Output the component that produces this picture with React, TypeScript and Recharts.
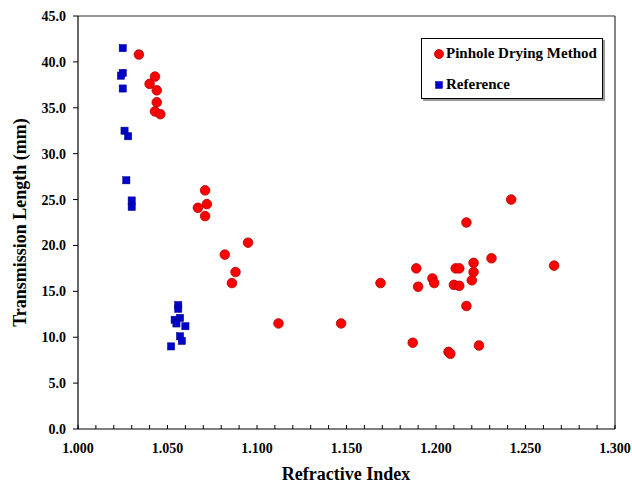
import { ScatterChart, Scatter, XAxis, YAxis, ReferenceLine, Legend, Label } from "recharts"

const FONT = "'Liberation Serif', 'Times New Roman', serif"

// Pinhole Drying Method (red circles)
const pinholeX = [
  1.034, 1.043, 1.040, 1.044, 1.044, 1.043, 1.046,
  1.071, 1.072, 1.067, 1.071, 1.095, 1.082, 1.088, 1.086,
  1.112, 1.147, 1.169,
  1.242, 1.217, 1.231, 1.266, 1.221, 1.189, 1.211, 1.213, 1.221,
  1.198, 1.199, 1.220, 1.190, 1.210, 1.213, 1.217,
  1.187, 1.207, 1.208, 1.224,
]
const pinholeY = [
  40.8, 38.4, 37.6, 36.9, 35.6, 34.6, 34.3,
  26.0, 24.5, 24.1, 23.2, 20.3, 19.0, 17.1, 15.9,
  11.5, 11.5, 15.9,
  25.0, 22.5, 18.6, 17.8, 18.1, 17.5, 17.5, 17.5, 17.1,
  16.4, 15.9, 16.2, 15.5, 15.7, 15.6, 13.4,
  9.4, 8.4, 8.2, 9.1,
]

// Reference (blue squares)
const referenceX = [
  1.025, 1.025, 1.024, 1.025, 1.026, 1.028, 1.027, 1.030, 1.030,
  1.056, 1.056, 1.057, 1.054, 1.055, 1.060, 1.057, 1.058, 1.052,
]
const referenceY = [
  41.5, 38.8, 38.5, 37.1, 32.5, 31.9, 27.1, 24.9, 24.2,
  13.5, 13.1, 12.1, 11.9, 11.5, 11.2, 10.1, 9.6, 9.0,
]

const xMajorTicks = [1.0, 1.05, 1.1, 1.15, 1.2, 1.25, 1.3]
const xMinorTicks = Array.from({ length: 31 }, (_, i) => 1 + i * 0.01)
const yTicks = [0, 5, 10, 15, 20, 25, 30, 35, 40, 45]

const pinhole = pinholeX.map((x, i) => ({ x, y: pinholeY[i] }))
const reference = referenceX.map((x, i) => ({ x, y: referenceY[i] }))

const RedDot = (props: any) => (
  <circle cx={props.cx} cy={props.cy} r={4.8} fill="#ff0000" stroke="#b00000" strokeWidth={0.8} />
)

const BlueSquare = (props: any) => (
  <rect x={props.cx - 3.6} y={props.cy - 3.6} width={7.2} height={7.2} fill="#0000cc" stroke="#000080" strokeWidth={0.5} />
)

const XTick = (props: any) => {
  const { x, y, payload } = props
  const v = payload.value as number
  const major = xMajorTicks.some((t) => Math.abs(t - v) < 1e-6)
  return (
    <g>
      <line x1={x} x2={x} y1={y} y2={y - 4} stroke="#000" strokeWidth={1} />
      {major && (
        <text x={x} y={y + 24} textAnchor="middle" fontSize={14} fontWeight="bold" fontFamily={FONT} fill="#000">
          {v.toFixed(3)}
        </text>
      )}
    </g>
  )
}

const LegendBox = () => (
  <div
    style={{
      width: 182,
      height: 61,
      border: "1px solid #000",
      boxShadow: "2px 2px 0 #9a9a9a",
      background: "#fff",
      fontFamily: FONT,
      fontWeight: "bold",
      fontSize: 15,
      color: "#000",
      boxSizing: "border-box",
      position: "relative",
    }}
  >
    <div style={{ position: "absolute", left: 12, top: 6, display: "flex", alignItems: "center", whiteSpace: "nowrap" }}>
      <svg width={10} height={10} style={{ marginRight: 2 }}>
        <circle cx={5} cy={5} r={4.5} fill="#ff0000" stroke="#b00000" strokeWidth={0.8} />
      </svg>
      Pinhole Drying Method
    </div>
    <div style={{ position: "absolute", left: 12, top: 37, display: "flex", alignItems: "center", whiteSpace: "nowrap" }}>
      <svg width={10} height={10} style={{ marginRight: 2 }}>
        <rect x={1.5} y={1.5} width={7} height={7} fill="#0000cc" stroke="#000080" strokeWidth={0.5} />
      </svg>
      Reference
    </div>
  </div>
)

export default function App() {
  return (
    <div style={{ position: "absolute", left: 0, top: 0, width: 632, height: 485, background: "#fff" }}>
      <ScatterChart width={632} height={485} margin={{ top: 16, right: 17, bottom: 0, left: 0 }}>
        <XAxis
          type="number"
          dataKey="x"
          domain={[1.0, 1.3]}
          ticks={xMinorTicks}
          interval={0}
          height={56}
          tickSize={0}
          tickMargin={0}
          tickLine={false}
          axisLine={{ stroke: "#000", strokeWidth: 1.2 }}
          tick={<XTick />}
          allowDataOverflow
        >
          <Label
            content={() => (
              <text x={346} y={480} textAnchor="middle" fontSize={18} fontWeight="bold" fontFamily={FONT} fill="#000">
                Refractive Index
              </text>
            )}
          />
        </XAxis>
        <YAxis
          type="number"
          dataKey="y"
          domain={[0, 45]}
          ticks={yTicks}
          interval={0}
          width={78}
          tickSize={5}
          tickMargin={7}
          tickLine={{ stroke: "#000" }}
          axisLine={{ stroke: "#000", strokeWidth: 1.2 }}
          tick={{ fontSize: 14, fontWeight: "bold", fontFamily: FONT, fill: "#000" }}
          tickFormatter={(v: number) => v.toFixed(1)}
        >
          <Label
            content={(p: any) => {
              const vb = p.viewBox
              const cx = 26
              const cy = vb.y + vb.height / 2
              return (
                <text
                  x={cx}
                  y={cy}
                  transform={`rotate(-90 ${cx} ${cy})`}
                  textAnchor="middle"
                  fontSize={18}
                  fontWeight="bold"
                  fontFamily={FONT}
                  fill="#000"
                >
                  Transmission Length (mm)
                </text>
              )
            }}
          />
        </YAxis>
        <ReferenceLine y={45} stroke="#333" strokeWidth={1.2} />
        <ReferenceLine x={1.3} stroke="#333" strokeWidth={1.2} />
        <Legend
          layout="vertical"
          align="center"
          verticalAlign="middle"
          content={<LegendBox />}
          wrapperStyle={{ position: "absolute", left: 421, top: 38, width: 184, height: 63 }}
        />
        <Scatter name="Pinhole Drying Method" data={pinhole} shape={<RedDot />} isAnimationActive={false} />
        <Scatter name="Reference" data={reference} shape={<BlueSquare />} isAnimationActive={false} />
      </ScatterChart>
    </div>
  )
}
